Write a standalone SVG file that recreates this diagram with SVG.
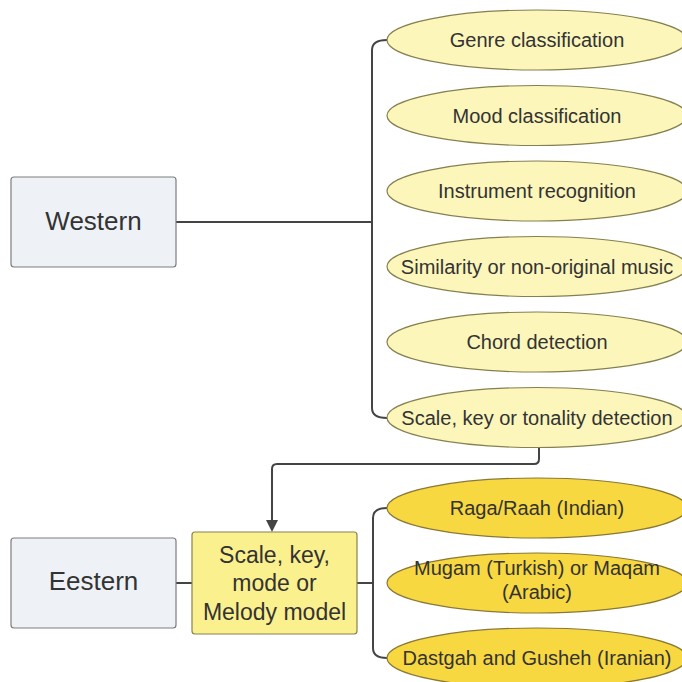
<svg xmlns="http://www.w3.org/2000/svg" width="682" height="682" viewBox="0 0 682 682">
<defs>
<style>
.box{fill:#eef2f6;stroke:#7d7d7d;stroke-width:1.2}
.ybox{fill:#fbf08e;stroke:#8a8250;stroke-width:1.2}
.pale{fill:#fcf6bb;stroke:#85804f;stroke-width:1.2}
.gold{fill:#f8d840;stroke:#8a7836;stroke-width:1.2}
.t{font-family:"Liberation Sans",Arial,sans-serif;fill:#333;text-anchor:middle}
.s20{font-size:20px}
.s23{font-size:23px}
.s26{font-size:26px}
.ln{fill:none;stroke:#444;stroke-width:2}
</style>
<marker id="ah" markerWidth="12" markerHeight="12" refX="10" refY="6" orient="auto" markerUnits="userSpaceOnUse">
<path d="M0,0 L12,6 L0,12 Z" fill="#444"/>
</marker>
</defs>
<rect width="682" height="682" fill="#fff"/>
<g id="connectors">
<line class="ln" x1="176" y1="222" x2="372" y2="222"/>
<path class="ln" d="M387,40 Q372,40 372,50 L372,408 Q372,418 387,418"/>
<path class="ln" d="M539,447 L539,459 Q539,464 534,464 L277,464 Q272,464 272,469 L272,530" marker-end="url(#ah)"/>
<line class="ln" x1="176" y1="583" x2="192" y2="583"/>
<line class="ln" x1="357" y1="583" x2="373" y2="583"/>
<path class="ln" d="M387,508 Q373,508 373,518 L373,648 Q373,658 387,658"/>
</g>
<g id="western"><rect class="box" x="11" y="177" width="165" height="90" rx="3"/><text class="t s26" x="93.5" y="230">Western</text></g>
<g id="genre"><ellipse class="pale" cx="537" cy="40" rx="150" ry="30"/><text class="t s20" x="537" y="47">Genre classification</text></g>
<g id="mood"><ellipse class="pale" cx="537" cy="115.5" rx="150" ry="30"/><text class="t s20" x="537" y="122.5">Mood classification</text></g>
<g id="instrument"><ellipse class="pale" cx="537" cy="191" rx="150" ry="30"/><text class="t s20" x="537" y="198">Instrument recognition</text></g>
<g id="similarity"><ellipse class="pale" cx="537" cy="266.5" rx="150" ry="30"/><text class="t s20" x="537" y="273.5">Similarity or non-original music</text></g>
<g id="chord"><ellipse class="pale" cx="537" cy="342" rx="150" ry="30"/><text class="t s20" x="537" y="349">Chord detection</text></g>
<g id="scale-detect"><ellipse class="pale" cx="537" cy="417.5" rx="150" ry="30"/><text class="t s20" x="537" y="424.5">Scale, key or tonality detection</text></g>
<g id="eastern"><rect class="box" x="11" y="538" width="165" height="90" rx="3"/><text class="t s26" x="93.5" y="590">Eestern</text></g>
<g id="scale-model"><rect class="ybox" x="192" y="532" width="165" height="102" rx="3"/><text class="t s23" x="274.5" y="563">Scale, key,</text><text class="t s23" x="274.5" y="591">mode or</text><text class="t s23" x="274.5" y="620">Melody model</text></g>
<g id="raga"><ellipse class="gold" cx="537" cy="508" rx="150" ry="30"/><text class="t s20" x="537" y="515">Raga/Raah (Indian)</text></g>
<g id="mugam"><ellipse class="gold" cx="537" cy="583" rx="150" ry="30"/><text class="t s20" x="537" y="575">Mugam (Turkish) or Maqam</text><text class="t s20" x="537" y="599">(Arabic)</text></g>
<g id="dastgah"><ellipse class="gold" cx="537" cy="658" rx="150" ry="30"/><text class="t s20" x="537" y="665">Dastgah and Gusheh (Iranian)</text></g>
</svg>
